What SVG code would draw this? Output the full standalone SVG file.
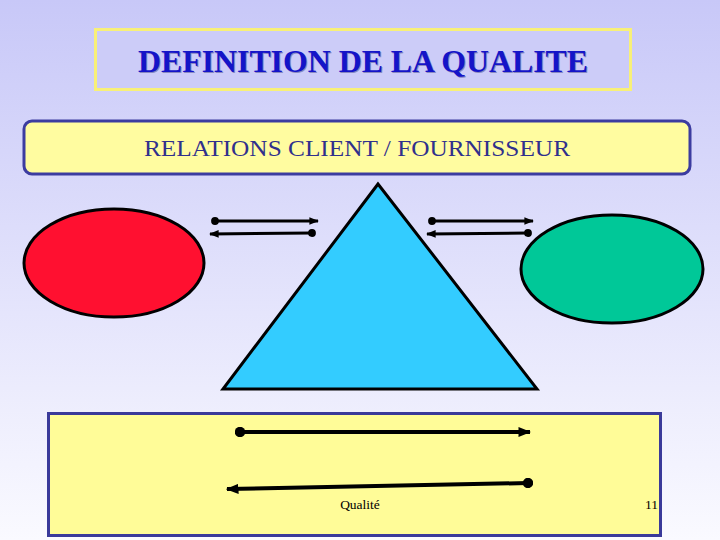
<svg xmlns="http://www.w3.org/2000/svg" width="720" height="540" viewBox="0 0 720 540">
<defs>
<linearGradient id="bg" x1="0" y1="0" x2="0" y2="1">
<stop offset="0" stop-color="#c8c8f8"/>
<stop offset="1" stop-color="#fafaff"/>
</linearGradient>
<marker id="ah" viewBox="0 0 10 10" refX="9" refY="5" markerWidth="3.2" markerHeight="3.2" orient="auto" markerUnits="strokeWidth">
<path d="M0,1 L10,5 L0,9 Z" fill="#000"/>
</marker>
<marker id="dot" viewBox="0 0 10 10" refX="5" refY="5" markerWidth="2.6" markerHeight="2.6" orient="auto" markerUnits="strokeWidth">
<circle cx="5" cy="5" r="5" fill="#000"/>
</marker>
</defs>
<style>
.conn{stroke:#000;fill:none;marker-start:url(#dot);marker-end:url(#ah)}
.thin{stroke-width:3}
.thick{stroke-width:4}
.serif{font-family:"Liberation Serif","Times New Roman",serif}
</style>
<rect x="0" y="0" width="720" height="540" fill="url(#bg)"/>
<g id="title">
<rect x="95.5" y="29.5" width="535" height="60" fill="#ccccf8" stroke="#f8f078" stroke-width="3"/>
<text x="364" y="73" class="serif" font-size="31" font-weight="bold" fill="#8888c0" text-anchor="middle" textLength="450" lengthAdjust="spacingAndGlyphs">DEFINITION DE LA QUALITE</text>
<text x="363" y="72" class="serif" font-size="31" font-weight="bold" fill="#1414c8" text-anchor="middle" textLength="450" lengthAdjust="spacingAndGlyphs">DEFINITION DE LA QUALITE</text>
</g>
<g id="banner">
<rect x="24" y="121" width="666" height="53" rx="8" fill="#fffca0" stroke="#3c3ca0" stroke-width="3"/>
<text x="357" y="156" class="serif" font-size="24" fill="#30308c" text-anchor="middle" textLength="426" lengthAdjust="spacingAndGlyphs">RELATIONS CLIENT / FOURNISSEUR</text>
</g>
<g id="client">
<ellipse cx="114" cy="263" rx="90" ry="54" fill="#ff1030" stroke="#000" stroke-width="3"/>
</g>
<g id="fournisseur">
<ellipse cx="612" cy="269" rx="91" ry="54" fill="#00c898" stroke="#000" stroke-width="3"/>
</g>
<g id="triangle">
<polygon points="378,184 223,389 537,389" fill="#33ccff" stroke="#000" stroke-width="3" stroke-linejoin="miter"/>
</g>
<g id="bottom">
<rect x="48.5" y="413.5" width="612" height="122" fill="#fffc98" stroke="#3a3a9a" stroke-width="3"/>
<text x="360" y="509" class="serif" font-size="13.5" fill="#000" text-anchor="middle">Qualité</text>
<text x="658" y="509" class="serif" font-size="13.5" fill="#000" text-anchor="end">11</text>
</g>
<g id="connectors">
<path class="conn thin" d="M215,221 L318,221"/>
<path class="conn thin" d="M312,233 L210,234"/>
<path class="conn thin" d="M432,221 L533,221"/>
<path class="conn thin" d="M528,233 L427,234"/>
<path class="conn thick" d="M240,432 L530,432"/>
<path class="conn thick" d="M528,483 L227,489"/>
</g>
</svg>
